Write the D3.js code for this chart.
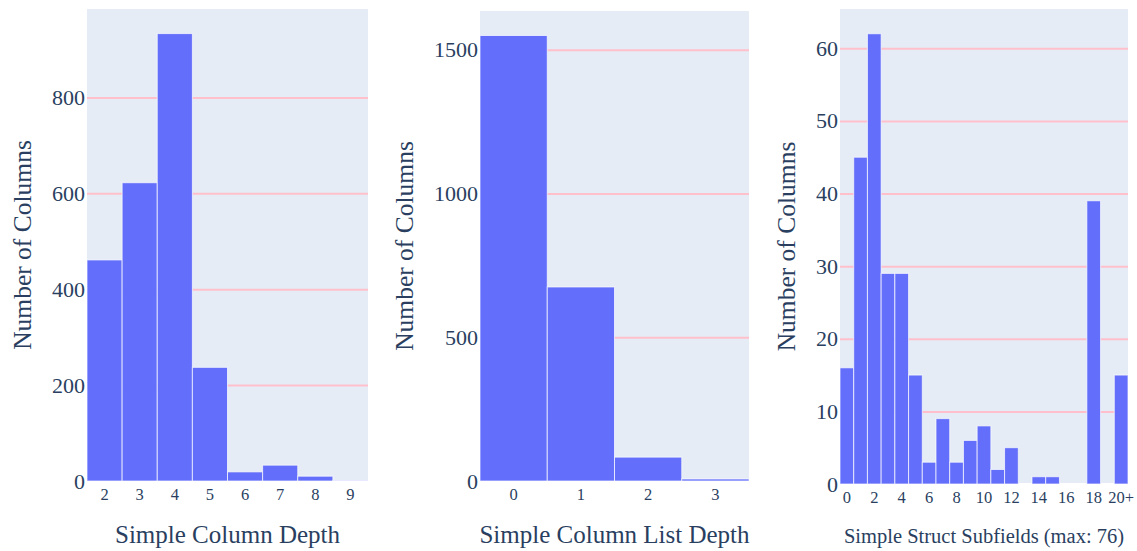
<!DOCTYPE html>
<html>
<head>
<meta charset="utf-8">
<script src="https://cdn.jsdelivr.net/npm/d3@7"></script>
<style>
  html, body { margin: 0; padding: 0; background: #fff; }
  svg { display: block; }
  text { font-family: "Liberation Serif", "Times New Roman", serif; fill: #2a3f5f; }
</style>
</head>
<body>
<div id="chart"></div>
<script>
// panel 1: simple column depth
var depthCats = ['2', '3', '4', '5', '6', '7', '8', '9'];
var depthCounts = [461, 622, 933, 237, 19, 33, 10, 1];
var depthTicks = [0, 200, 400, 600, 800];

// panel 2: list depth
var listCats = ['0', '1', '2', '3'];
var listCounts = [1550, 675, 83, 7];
var listTicks = [0, 500, 1000, 1500];

// panel 3: struct subfields
var structCats = ['0', '1', '2', '3', '4', '5', '6', '7', '8', '9', '10', '11', '12', '13', '14', '15', '16', '17', '18', '19', '20+'];
var structCounts = [16, 45, 62, 29, 29, 15, 3, 9, 3, 6, 8, 2, 5, 0, 1, 1, 0, 0, 39, 0, 15];
var structTicks = [0, 10, 20, 30, 40, 50, 60];
var structLabels = ['0', '2', '4', '6', '8', '10', '12', '14', '16', '18', '20+'];

var svg = d3.select('#chart').append('svg')
    .attr('width', 1137)
    .attr('height', 551);

// each panel: box in pixels + its data
var panels = [
  { left: 87, right: 368, top: 9, bottom: 481, cats: depthCats, counts: depthCounts, ticks: depthTicks,
    labels: depthCats, xTitle: 'Simple Column Depth', xTitleSize: 25, yTitleX: 22 },
  { left: 480, right: 749, top: 11, bottom: 481, cats: listCats, counts: listCounts, ticks: listTicks,
    labels: listCats, xTitle: 'Simple Column List Depth', xTitleSize: 25, yTitleX: 404 },
  { left: 840, right: 1128, top: 9, bottom: 484, cats: structCats, counts: structCounts, ticks: structTicks,
    labels: structLabels, xTitle: 'Simple Struct Subfields (max: 76)', xTitleSize: 20.5, yTitleX: 786 }
];

var serif = '"Liberation Serif", "Times New Roman", serif';

panels.forEach(function(p) {
  var width = p.right - p.left,
      height = p.bottom - p.top;

  var x = d3.scaleBand().domain(p.cats).range([0, width]).padding(0);
  var y = d3.scaleLinear().domain([0, d3.max(p.counts) * 1.055]).range([height, 0]);

  var g = svg.append('g').attr('transform', 'translate(' + p.left + ',' + p.top + ')');

  g.append('rect')
      .attr('width', width)
      .attr('height', height)
      .attr('fill', '#e5ecf6');

  // pink grid lines, behind the bars
  var grid = g.append('g')
      .call(d3.axisLeft(y).tickValues(p.ticks.filter(function(t) { return t > 0; })).tickSize(-width).tickFormat(''));
  grid.select('.domain').remove();
  grid.selectAll('line').attr('stroke', 'pink').attr('stroke-width', 2);

  // zero line
  g.append('line')
      .attr('x1', 0).attr('x2', width)
      .attr('y1', y(0)).attr('y2', y(0))
      .attr('stroke', '#fff').attr('stroke-width', 2);

  g.selectAll('.bar')
      .data(p.counts)
      .enter()
      .append('rect')
        .attr('class', 'bar')
        .attr('x', function(d, i) { return x(p.cats[i]); })
        .attr('y', function(d) { return y(d); })
        .attr('width', x.bandwidth())
        .attr('height', function(d) { return y(0) - y(d); })
        .attr('fill', '#636efa')
        .attr('stroke', '#fff')
        .attr('stroke-opacity', 0.7)
        .attr('stroke-width', 1);

  // y tick labels
  var yAxis = g.append('g')
      .call(d3.axisLeft(y).tickValues(p.ticks).tickSize(0).tickPadding(2).tickFormat(d3.format('d')));
  yAxis.select('.domain').remove();
  yAxis.selectAll('text')
      .style('font-size', '22px')
      .style('font-family', serif)
      .attr('fill', '#2a3f5f');

  // x tick labels
  var xAxis = g.append('g')
      .attr('transform', 'translate(0,' + height + ')')
      .call(d3.axisBottom(x).tickValues(p.labels).tickSize(0).tickPadding(7));
  xAxis.select('.domain').remove();
  xAxis.selectAll('text')
      .style('font-size', '16.5px')
      .style('font-family', serif)
      .attr('fill', '#2a3f5f');

  // axis titles
  svg.append('text')
      .attr('x', (p.left + p.right) / 2)
      .attr('y', 543)
      .attr('text-anchor', 'middle')
      .style('font-size', p.xTitleSize + 'px')
      .text(p.xTitle);

  svg.append('text')
      .attr('transform', 'translate(' + p.yTitleX + ',' + ((p.top + p.bottom) / 2) + ')rotate(-90)')
      .attr('text-anchor', 'middle')
      .attr('dy', '0.35em')
      .style('font-size', '25.5px')
      .text('Number of Columns');
});
</script>
</body>
</html>
